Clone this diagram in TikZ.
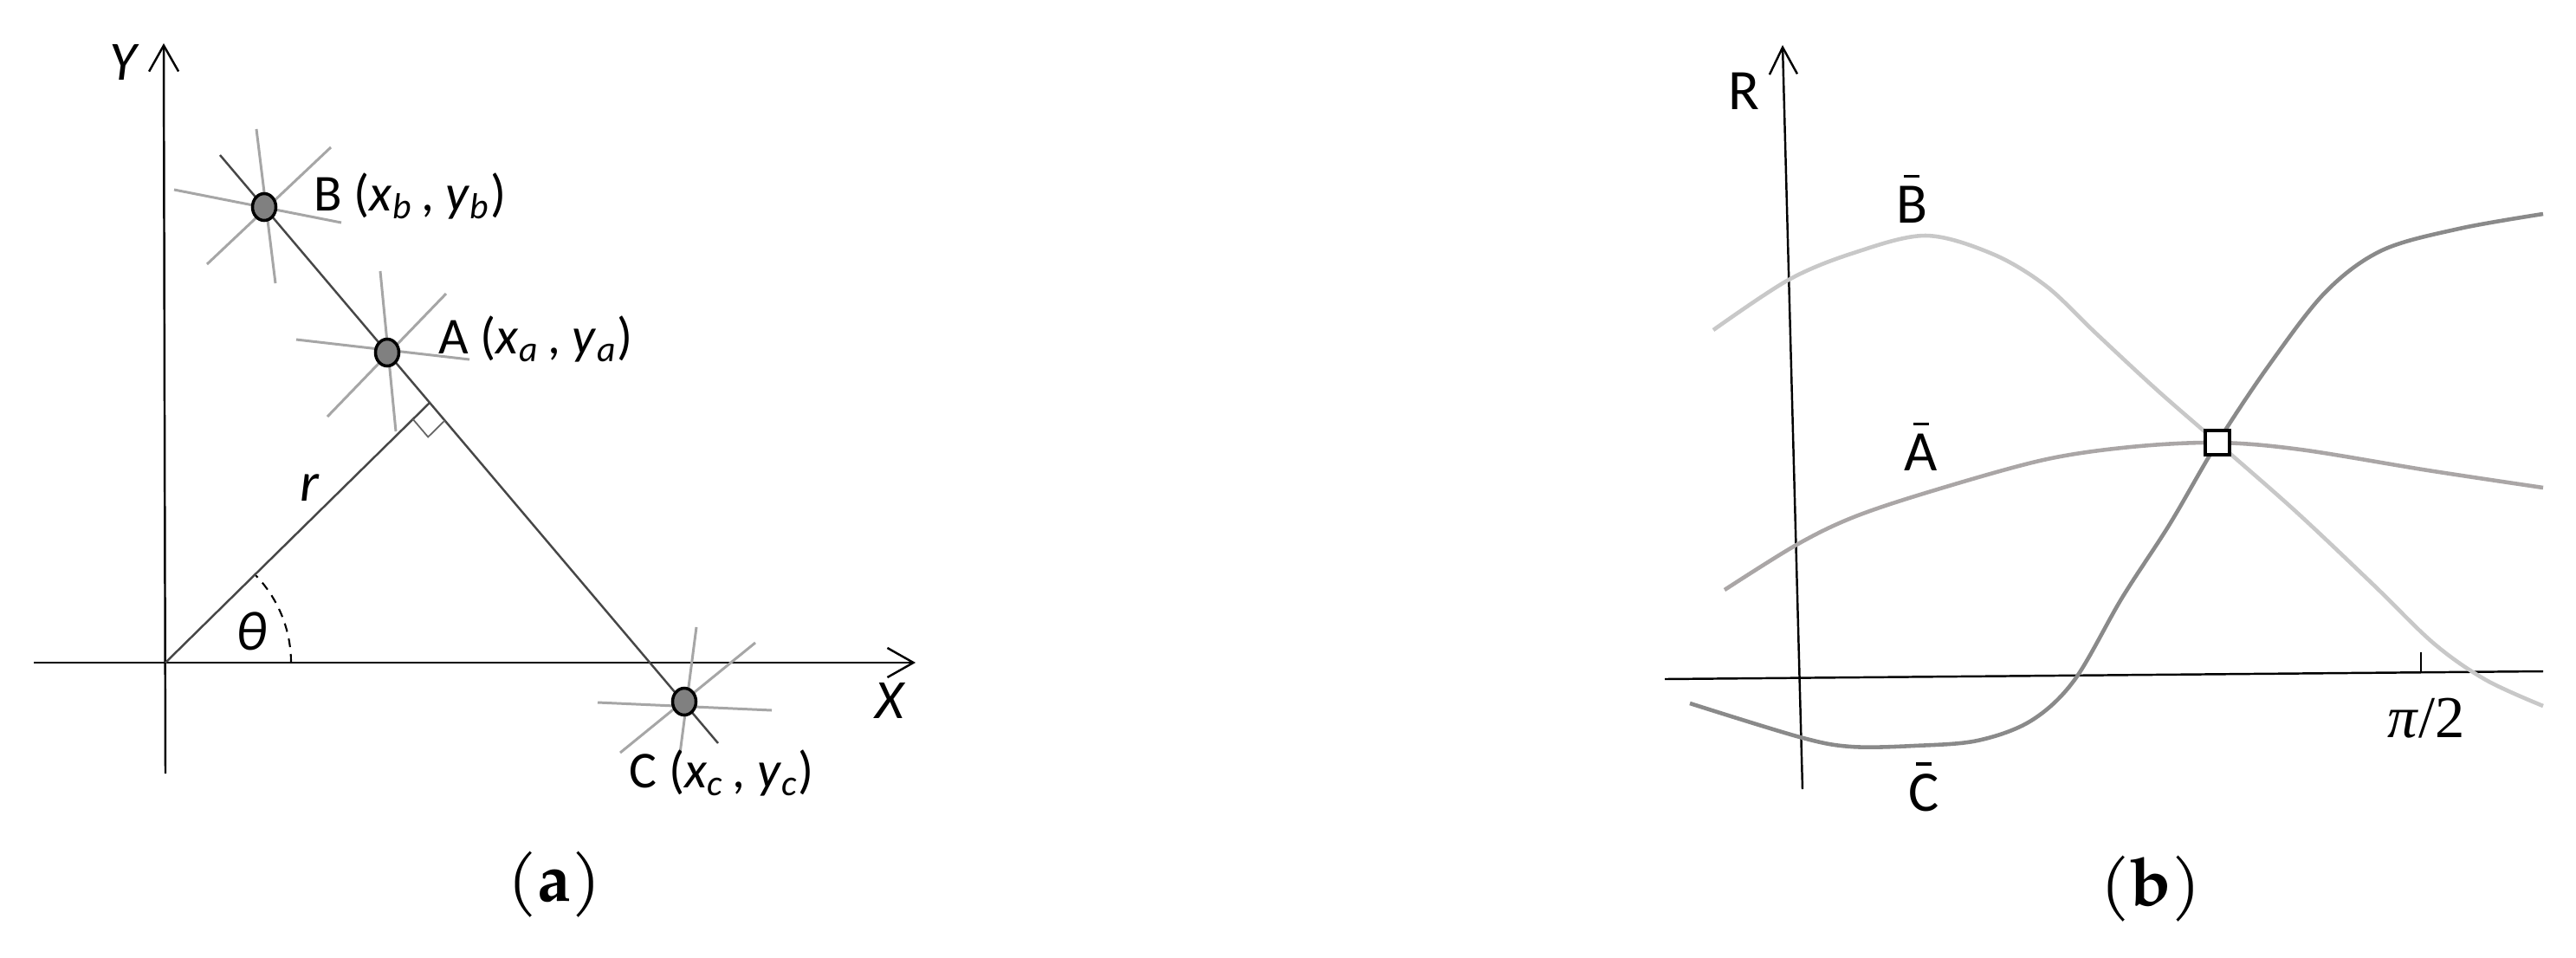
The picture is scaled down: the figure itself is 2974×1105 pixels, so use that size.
\documentclass[tikz,border=0pt]{standalone}
\usepackage{fontspec}
\setmainfont{Carlito}
\newfontfamily\capfont{TeX Gyre Pagella}
\newfontfamily\serifm{Liberation Serif}
\usetikzlibrary{arrows.meta,shapes.geometric}
\newcommand\barred[1]{\vbox{\offinterlineskip\halign{\hfil##\hfil\cr\rule{0.26em}{0.055em}\cr\noalign{\kern0.14em}#1\cr}}}
\begin{document}
\begin{tikzpicture}[x=0.01cm,y=-0.01cm,
  axis/.style={line width=0.7pt, black},
  barb/.style={-{Straight Barb[length=0.3cm,width=0.34cm,line width=0.7pt]}},
  spoke/.style={line width=0.85pt, black!35},
  mainln/.style={line width=0.7pt, black!72},
  dotpt/.style={ellipse, draw=black, line width=1pt, fill=black!50, minimum width=0.27cm, minimum height=0.31cm, inner sep=0pt},
  lbl/.style={inner sep=0pt, font=\fontsize{17}{20}\selectfont},
  axlbl/.style={inner sep=0pt, font=\fontsize{18.2}{21}\selectfont\itshape},
  blbl/.style={inner sep=0pt, font=\fontsize{18.8}{22}\selectfont},
  caplbl/.style={inner sep=0pt, font=\capfont\fontsize{22}{26}\selectfont},
  curveB/.style={line width=1.3pt, color={rgb,255:red,200;green,200;blue,200}},
  curveA/.style={line width=1.3pt, color={rgb,255:red,170;green,166;blue,166}},
  curveC/.style={line width=1.3pt, color={rgb,255:red,138;green,138;blue,138}}
]
\fill[white] (0,0) rectangle (2974,1105);

% ---------- panel (a) ----------
\coordinate (O) at (191,765);
\coordinate (Ybot) at (191,893);
\coordinate (Ytop) at (189,50);
\coordinate (Xl) at (39,765);
\coordinate (Xr) at (1057,765);
\draw[axis,barb] (Ybot) -- (Ytop);
\draw[axis,barb] (Xl) -- (Xr);

% spokes (stars)
\draw[spoke] (201,219) -- (394,257);
\draw[spoke] (296,149) -- (318,327);
\draw[spoke] (382,170) -- (239,305);
\draw[spoke] (342,392) -- (542,415);
\draw[spoke] (439,313) -- (457,498);
\draw[spoke] (515,339) -- (378,481);
\draw[spoke] (690,811) -- (891,820);
\draw[spoke] (804,724) -- (785,870);
\draw[spoke] (872,742) -- (716,869);

% main line and r
\coordinate (L1) at (254,179);
\coordinate (L2) at (829,858);
\coordinate (F) at (496,465);
\draw[mainln] (L1) -- (L2);
\draw[mainln] (O) -- (F);
\draw[line width=0.5pt, black!60] (476.7,483.9) -- (494.2,504.5) -- (513.4,485.6);
\draw[line width=0.6pt, black, dash pattern=on 0.1cm off 0.08cm]
  plot[domain=0:44, samples=30] ({191+145*cos(\x)}, {765-145*sin(\x)});

\node[dotpt] (B) at (305,239) {};
\node[dotpt] (A) at (447,407) {};
\node[dotpt] (C) at (790,810) {};

\node[lbl, anchor=base west] (Blab) at (362,243) {B (\textit{x}\textsubscript{\textit{b}}\,, \textit{y}\textsubscript{\textit{b}})};
\node[lbl, anchor=base west] (Alab) at (506,408) {A (\textit{x}\textsubscript{\textit{a}}\,, \textit{y}\textsubscript{\textit{a}})};
\node[lbl, anchor=base west] (Clab) at (726,909) {C (\textit{x}\textsubscript{\textit{c}}\,, \textit{y}\textsubscript{\textit{c}})};
\node[axlbl, anchor=base] (Ylab) at (142,92) {Y};
\node[axlbl, anchor=base] (Xlab) at (1027,829) {X};
\node[axlbl, anchor=base] (thlab) at (290,750) {θ};
\node[axlbl, anchor=base] (rlab) at (357,578) {r};
\node[caplbl, anchor=base] (capa) at (640,1040) {(\textbf{a})};

% ---------- panel (b) ----------
\coordinate (Rbot) at (2081,911);
\coordinate (Rtop) at (2058,52);
\coordinate (Hl) at (1922,784);
\coordinate (Hr) at (2936,775);
\draw[axis,-{Straight Barb[length=0.31cm,width=0.32cm,line width=0.7pt]}] (Rbot) -- (Rtop);
\draw[axis] (Hl) -- (Hr);
\coordinate (T1) at (2795,776);
\coordinate (T2) at (2795,753);
\draw[line width=0.6pt] (T1) -- (T2);

\draw[curveB] plot[smooth, tension=0.55] coordinates {(1978,381) (2065,323) (2140,292) (2223,272) (2300,293) (2362,330) (2420,385) (2490,450) (2560,511) (2650,590) (2740,675) (2810,743) (2870,785) (2936,815)};
\draw[curveA] plot[smooth, tension=0.55] coordinates {(1991,681) (2074,629) (2140,597) (2230,567) (2359,531) (2460,516) (2560,511) (2656,519) (2803,543) (2936,563)};
\draw[curveC] plot[smooth, tension=0.55] coordinates {(1951,812) (2078,851) (2137,862) (2210,861) (2283,855) (2345,832) (2395,785) (2450,690) (2505,605) (2560,511) (2620,421) (2685,337) (2750,289) (2839,264) (2936,247)};

\node[draw=black, fill=white, line width=1.15pt, minimum size=0.28cm, inner sep=0pt] (sq) at (2560,511) {};

\node[blbl, anchor=base] (Rlab) at (2013,126) {R};
\node[blbl, anchor=base] (Bbar) at (2207,257) {\barred{B}};
\node[blbl, anchor=base] (Abar) at (2218,543) {\barred{A}};
\node[blbl, anchor=base] (Cbar) at (2221,936) {\barred{C}};
\node[inner sep=0pt, anchor=base, font=\serifm\fontsize{19.5}{23}\selectfont] (pi2) at (2801,851) {\textit{π}/2};
\node[caplbl, anchor=base] (capb) at (2483,1045) {(\textbf{b})};
\end{tikzpicture}
\end{document}
